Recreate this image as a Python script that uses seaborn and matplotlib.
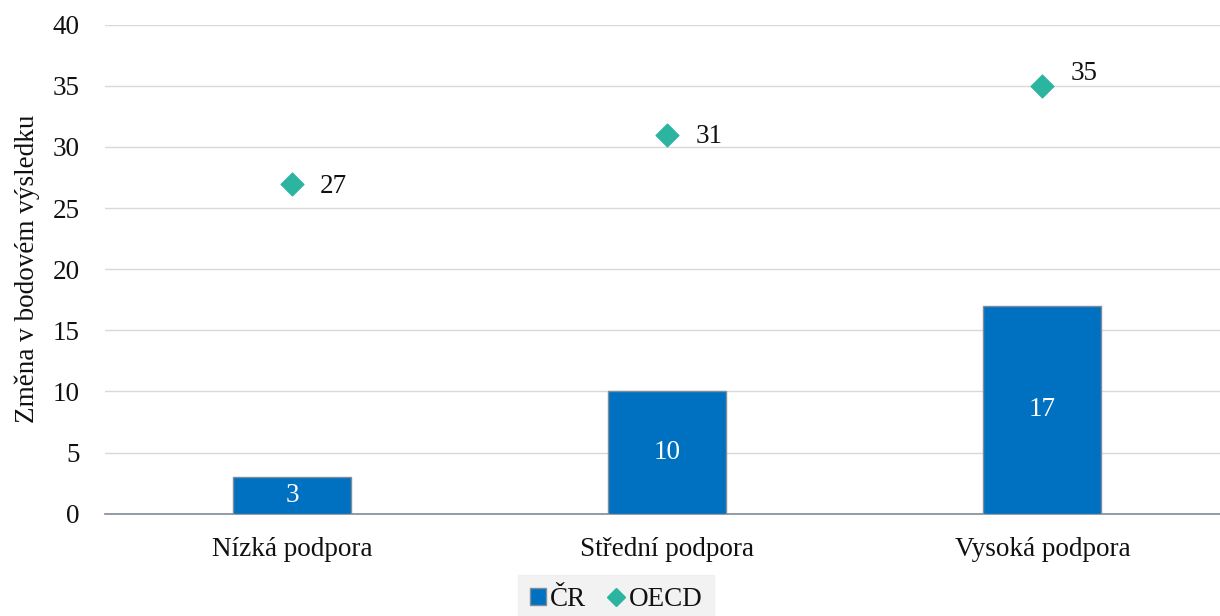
import matplotlib.pyplot as plt
import pandas as pd
import seaborn as sns
from matplotlib.lines import Line2D
from matplotlib.patches import Patch

categories = ["Nízká podpora", "Střední podpora", "Vysoká podpora"]
cr_values = [3, 10, 17]
oecd_values = [27, 31, 35]
y_ticks = [0, 5, 10, 15, 20, 25, 30, 35, 40]

bar_color = "#0070c0"
oecd_color = "#2bb5a0"
text_color = "#111111"

# label nudges (points) for the OECD values, as placed in the original
oecd_label_dy = [-2, -1, 9]

sns.set_theme(style="white")
plt.rcParams["font.family"] = ["Liberation Serif", "DejaVu Serif"]

df = pd.DataFrame({"kategorie": categories, "CR": cr_values, "OECD": oecd_values})

fig = plt.figure(figsize=(12.2, 6.16), dpi=100)
ax = fig.add_axes([0.086, 0.166, 0.9221, 0.794])

sns.barplot(data=df, x="kategorie", y="CR", color=bar_color, width=0.315,
            edgecolor="#7f8c99", linewidth=1.0, saturation=1, ax=ax, zorder=3)
sns.scatterplot(data=df, x="kategorie", y="OECD", marker="D", s=135,
                color=oecd_color, edgecolor=oecd_color, ax=ax, zorder=4)

for i, v in enumerate(cr_values):
    ax.text(i, v / 2, str(v), ha="center", va="center", color="white",
            fontsize=19.5, zorder=5)
for i, v in enumerate(oecd_values):
    ax.annotate(str(v), (i, v), xytext=(20, oecd_label_dy[i]), textcoords="offset points",
                ha="left", va="center", fontsize=19.5, color=text_color)

ax.set_xlim(-0.5, 2.5)
ax.set_ylim(0, 40)
ax.set_yticks(y_ticks)
ax.set_yticklabels([str(t) for t in y_ticks])
ax.yaxis.grid(True, color="#d9d9d9", linewidth=1.0, zorder=0)
ax.set_axisbelow(True)
ax.tick_params(axis="both", labelsize=19.5, colors=text_color, length=0)
ax.tick_params(axis="y", pad=18)
ax.tick_params(axis="x", pad=16.5)
for side in ["top", "right", "left"]:
    ax.spines[side].set_visible(False)
ax.spines["bottom"].set_color("#7f8c99")
ax.spines["bottom"].set_linewidth(1.2)
ax.set_xlabel("")
ax.set_ylabel("Změna v bodovém výsledku", fontsize=19.5, color=text_color, labelpad=9)

handles = [
    Patch(facecolor=bar_color, edgecolor="#7f8c99", label="ČR"),
    Line2D([0], [0], marker="D", linestyle="none", markersize=9,
           markerfacecolor=oecd_color, markeredgecolor=oecd_color, label="OECD"),
]
leg = fig.legend(handles=handles, loc="lower center", bbox_to_anchor=(0.505, -0.035),
                 ncol=2, frameon=True, fontsize=19.5, handlelength=0.6, handleheight=0.6,
                 handletextpad=0.15, columnspacing=0.8, borderpad=0.45, labelcolor=text_color)
leg.get_frame().set_facecolor("#efefef")
leg.get_frame().set_edgecolor("#efefef")
leg.get_frame().set_boxstyle("square", pad=0)

fig.savefig("out.png", dpi=100)
